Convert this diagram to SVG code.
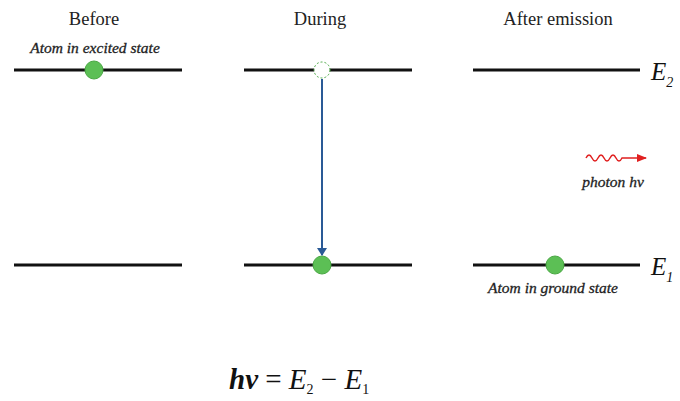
<svg xmlns="http://www.w3.org/2000/svg" width="680" height="401" viewBox="0 0 680 401">
<defs>
<style>
.lvl{stroke:#111;stroke-width:3;fill:none}
.title{font-family:"Liberation Serif",serif;font-size:18.5px;fill:#222;text-anchor:middle}
.note{font-family:"Liberation Serif",serif;font-size:15.5px;font-style:italic;fill:#222;text-anchor:middle;stroke:#222;stroke-width:0.3}
.elab{font-family:"Liberation Serif",serif;font-size:25px;font-style:italic;fill:#111}
.sub{font-size:14px}
.atom{fill:#5cbf55;stroke:#4aa844;stroke-width:1}
.math{font-family:"Liberation Serif",serif;font-size:29px;fill:#111}
</style>
<marker id="ah" markerWidth="8" markerHeight="10" refX="7" refY="5" orient="auto" markerUnits="userSpaceOnUse">
<path d="M0,0 L8,5 L0,10 z" fill="#2a5a96"/>
</marker>
<marker id="rh" markerWidth="10" markerHeight="8" refX="9" refY="4" orient="auto" markerUnits="userSpaceOnUse">
<path d="M0,0 L10,4 L0,8 z" fill="#e02020"/>
</marker>
</defs>
<rect width="680" height="401" fill="#fff"/>
<g id="titles">
<text class="title" x="94" y="25">Before</text>
<text class="title" x="320" y="25">During</text>
<text class="title" x="558" y="25">After emission</text>
</g>
<g id="levels">
<line class="lvl" x1="14" y1="70" x2="182" y2="70"/>
<line class="lvl" x1="244" y1="70" x2="412" y2="70"/>
<line class="lvl" x1="473" y1="70" x2="640" y2="70"/>
<line class="lvl" x1="14" y1="265" x2="182" y2="265"/>
<line class="lvl" x1="244" y1="265" x2="412" y2="265"/>
<line class="lvl" x1="473" y1="265" x2="640" y2="265"/>
</g>
<g id="energy-labels">
<text class="elab" x="651" y="80">E<tspan class="sub" dy="7">2</tspan></text>
<text class="elab" x="651" y="275">E<tspan class="sub" dy="7">1</tspan></text>
</g>
<g id="atom-before">
<circle class="atom" cx="94" cy="70" r="9"/>
<text class="note" x="95" y="53">Atom in excited state</text>
</g>
<g id="atom-during-old">
<circle cx="322" cy="70" r="8" fill="#fff" stroke="#4aa844" stroke-width="1" stroke-dasharray="2,2"/>
</g>
<g id="atom-during-new">
<circle class="atom" cx="322" cy="265" r="9"/>
</g>
<g id="atom-after">
<circle class="atom" cx="555" cy="265" r="9"/>
<text class="note" x="553" y="293">Atom in ground state</text>
</g>
<g id="photon">
<path d="M586,158 q3,-6 6,0 t6,0 t6,0 t6,0 t6,0 t6,0 L646,158" fill="none" stroke="#e02020" stroke-width="1.5" marker-end="url(#rh)"/>
<text class="note" x="613" y="187">photon hν</text>
</g>
<g id="connectors">
<line x1="322" y1="79" x2="322" y2="255" stroke="#2a5a96" stroke-width="2" marker-end="url(#ah)"/>
</g>
<g id="formula">
<text class="math" x="229" y="389"><tspan font-style="italic" font-weight="bold">hν</tspan> = <tspan font-style="italic">E</tspan><tspan font-size="14" dy="5">2</tspan><tspan dy="-5"> − </tspan><tspan font-style="italic">E</tspan><tspan font-size="14" dy="5">1</tspan></text>
</g>
</svg>
